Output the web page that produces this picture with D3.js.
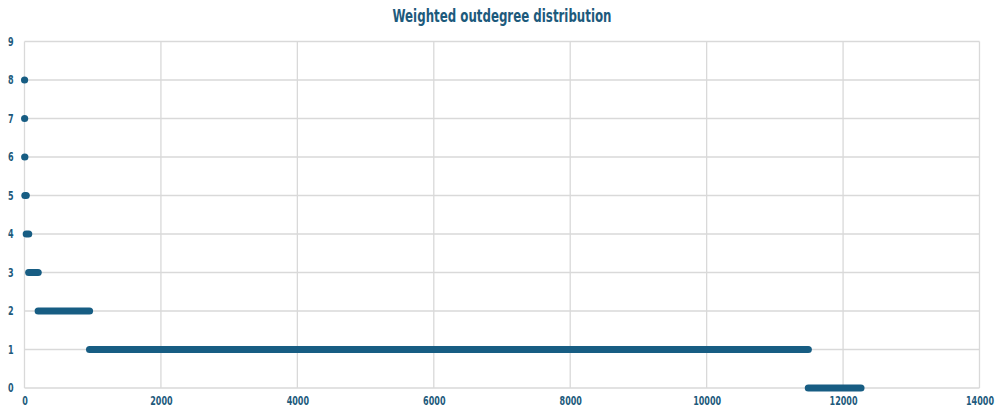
<!DOCTYPE html>
<html>
<head>
<meta charset="utf-8">
<script src="https://cdn.jsdelivr.net/npm/d3@7"></script>
<style>
  html, body { margin: 0; padding: 0; background: #fff; }
  svg { display: block; }
  text { font-family: "DejaVu Sans", sans-serif; font-weight: bold; fill: #1d5a7c; }
</style>
</head>
<body>
<script>
// Nodes ranked by weighted outdegree: each run covers the ranks that share a degree
const degrees   = [8, 7, 6, 5, 4, 3, 2, 1, 0];
const rankStart = [1, 2, 3, 6, 26, 62, 201, 954, 11491];
const rankEnd   = [1, 2, 5, 25, 61, 200, 953, 11490, 12262];

const xTicks = [0, 2000, 4000, 6000, 8000, 10000, 12000, 14000];
const yTicks = [0, 1, 2, 3, 4, 5, 6, 7, 8, 9];

const W = 997, H = 410;
const margin = { left: 24.5, right: 17.5, top: 41.5, bottom: 22 };

const svg = d3.select("body").append("svg").attr("width", W).attr("height", H);

const x = d3.scaleLinear().domain([0, 14000]).range([margin.left, W - margin.right]);
const y = d3.scaleLinear().domain([0, 9]).range([H - margin.bottom, margin.top]);

// gridlines
svg.append("g").selectAll("line").data(yTicks).join("line")
  .attr("x1", x(0)).attr("x2", x(14000))
  .attr("y1", d => y(d)).attr("y2", d => y(d))
  .attr("stroke", "#d9d9d9").attr("stroke-width", 1.3);
svg.append("g").selectAll("line").data(xTicks).join("line")
  .attr("x1", d => x(d)).attr("x2", d => x(d))
  .attr("y1", y(0)).attr("y2", y(9))
  .attr("stroke", "#d9d9d9").attr("stroke-width", 1.3);

// axes (labels only); glyphs squeezed horizontally to a narrow face
const fmt = d3.format("d");
const squeeze = 0.7;
const xAxis = svg.append("g").attr("transform", `translate(0,${y(0)})`)
  .call(d3.axisBottom(x).tickValues(xTicks).tickSize(0).tickPadding(9).tickFormat(fmt));
const yAxis = svg.append("g").attr("transform", `translate(${x(0)},0)`)
  .call(d3.axisLeft(y).tickValues(yTicks).tickSize(0).tickPadding(11).tickFormat(fmt));
[xAxis, yAxis].forEach(a => {
  a.select(".domain").remove();
  a.selectAll("text").attr("font-size", 11.5).attr("fill", "#1d5a7c");
});
xAxis.selectAll("text").attr("transform", `scale(${squeeze},1)`);
yAxis.selectAll("text").attr("x", -11 / squeeze).attr("transform", `scale(${squeeze},1)`);

// markers: one round-capped run per degree
const runs = degrees.map((d, i) => ({ deg: d, a: rankStart[i], b: rankEnd[i] }));
svg.append("g").selectAll("line").data(runs).join("line")
  .attr("x1", d => x(d.a)).attr("x2", d => x(d.b))
  .attr("y1", d => y(d.deg)).attr("y2", d => y(d.deg))
  .attr("stroke", "#175d83").attr("stroke-width", 7.2).attr("stroke-linecap", "round");

// title
svg.append("text").attr("x", 502).attr("y", 21.5).attr("text-anchor", "middle")
  .attr("font-size", 17).attr("textLength", 219).attr("lengthAdjust", "spacingAndGlyphs")
  .text("Weighted outdegree distribution");
</script>
</body>
</html>
